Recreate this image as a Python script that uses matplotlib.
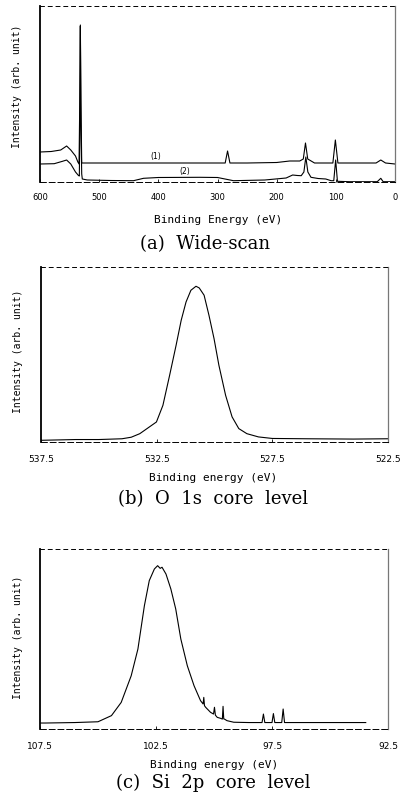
import matplotlib
matplotlib.use("Agg")
import matplotlib.pyplot as plt

# (a) wide scan, two samples
wide_e1 = [600, 581, 565, 555, 548, 540, 536, 534, 532.8, 531.8, 530.8, 529.5, 500, 450,
           400, 350, 300, 287, 283, 279, 250, 200, 178, 161, 155, 151.3, 147.5, 136, 120,
           105, 100.8, 96.5, 60, 32, 24, 16, 0]
wide_i1 = [30, 30.5, 32, 36, 32, 26, 20, 18, 80, 157, 80, 19, 19, 19,
           19, 19, 19, 19, 31, 19, 19, 19.5, 21, 21, 23, 39, 23, 19, 19,
           19, 42, 19, 19, 19, 22, 19, 18]
wide_e2 = [600, 576, 562, 555, 548, 540, 535, 533.5, 532.6, 531.8, 530.9, 529.5, 528.5, 520,
           480, 442, 425, 400, 330, 300, 273, 220, 184, 173, 165, 158.5, 154, 150.7, 147.3,
           142, 130, 117, 108, 103.5, 100.3, 97.3, 77, 30, 24, 20, 0]
wide_i2 = [18, 18.3, 20.7, 22, 18, 10, 6.5, 6, 60, 156, 60, 8, 3, 2,
           1.5, 1.3, 3.7, 4.5, 4.7, 4.5, 1.3, 2, 4, 7, 6.5, 6.3, 10, 25, 10,
           4.7, 3.5, 3, 1.3, 1.3, 22, 0.7, 0.3, 0.3, 3.7, 0.3, 0.3]
wide_ticks = [600, 500, 400, 300, 200, 100, 0]

# (b) O 1s
o1s_e = [537.5, 536, 535, 534, 533.6, 533.23, 532.51, 532.23, 531.94, 531.66, 531.44,
         531.23, 531.02, 530.80, 530.66, 530.45, 530.24, 530.02, 529.81, 529.52, 529.24,
         528.95, 528.60, 528.10, 527.5, 526, 524, 522.5]
o1s_i = [0.0, 0.005, 0.005, 0.01, 0.02, 0.043, 0.119, 0.227, 0.422, 0.617, 0.779,
         0.898, 0.974, 1.0, 0.989, 0.942, 0.812, 0.660, 0.487, 0.292, 0.152,
         0.076, 0.043, 0.022, 0.012, 0.01, 0.008, 0.01]
o1s_ticks = [537.5, 532.5, 527.5, 522.5]

# (c) Si 2p
si2p_e = [107.5, 107.27, 106, 105.0, 104.42, 104.0, 103.57, 103.28, 103.0, 102.79, 102.57,
          102.43, 102.32, 102.24, 102.07, 101.86, 101.65, 101.43, 101.15, 100.86, 100.58,
          100.47, 100.44, 100.41, 100.36, 100.15, 100.02, 99.98, 99.94, 99.86, 99.72, 99.64,
          99.61, 99.58, 99.55, 99.44, 99.15, 98.5, 97.93, 97.87, 97.81, 97.5, 97.44, 97.38,
          97.08, 97.02, 96.96, 96.0, 93.46]
si2p_i = [0, 0, 0.003, 0.008, 0.047, 0.131, 0.30, 0.47, 0.746, 0.905, 0.979,
          1.0, 0.983, 0.99, 0.947, 0.852, 0.725, 0.534, 0.364, 0.237, 0.142,
          0.121, 0.163, 0.11, 0.10, 0.068, 0.057, 0.10, 0.05, 0.036, 0.03, 0.025,
          0.106, 0.026, 0.025, 0.015, 0.005, 0.003, 0.003, 0.057, 0.003, 0.003, 0.06, 0.003,
          0.003, 0.089, 0.003, 0.003, 0.003]
si2p_ticks = [107.5, 102.5, 97.5, 92.5]

W, H = 408, 803
SANS = "DejaVu Sans"
MONO = "DejaVu Sans Mono"
SERIF = "DejaVu Serif"


def frame(ax):
    ax.spines["left"].set_linewidth(1.3)
    ax.spines["right"].set_color("#777777")
    ax.spines["right"].set_linewidth(0.9)
    ax.spines["top"].set_linewidth(0.7)
    ax.spines["top"].set_linestyle((0, (4, 4)))
    ax.spines["bottom"].set_linewidth(0.7)
    ax.spines["bottom"].set_linestyle((0, (6, 3)))
    ax.set_yticks([])
    ax.tick_params(axis="x", direction="in", length=2, width=0.6)


def px_axes(fig, left, right, top, bottom):
    return fig.add_axes([left / W, 1 - bottom / H, (right - left) / W, (bottom - top) / H])


fig = plt.figure(figsize=(W / 100, H / 100), dpi=100)

# (a)
ax = px_axes(fig, 40, 395, 7, 183)
ax.plot(wide_e1, wide_i1, color="black", lw=0.8)
ax.plot(wide_e2, wide_i2, color="black", lw=0.8)
ax.set_xlim(600, 0)
ax.set_ylim(0, 176)
frame(ax)
ax.set_xticks(wide_ticks)
ax.set_xticklabels([str(t) for t in wide_ticks], fontsize=6, family=SANS)
ax.tick_params(axis="x", pad=7)
ax.text(404, 27, "(1)", fontsize=5.5, family=SANS, ha="center", va="center")
ax.text(355, 11.3, "(2)", fontsize=5.5, family=SANS, ha="center", va="center")
ax.set_xlabel("Binding Energy (eV)", fontsize=8, family=MONO, va="center")
ax.xaxis.set_label_coords((218 - 40) / 355, (183 - 220) / 176)
ax.set_ylabel("Intensity (arb. unit)", fontsize=7, family=MONO, va="center")
ax.yaxis.set_label_coords((17.5 - 40) / 355, (183 - 86) / 176)
fig.text(205 / W, 1 - 244 / H, "(a)  Wide-scan", fontsize=13, family=SERIF,
         ha="center", va="center")

# (b)
ax = px_axes(fig, 41, 388, 268, 443)
ax.plot(o1s_e, o1s_i, color="black", lw=0.8)
ax.set_xlim(537.5, 522.5)
ax.set_ylim(-0.011, 1.125)
frame(ax)
ax.set_xticks(o1s_ticks)
ax.set_xticklabels([f"{t:.1f}" for t in o1s_ticks], fontsize=6.5, family=SANS)
ax.tick_params(axis="x", pad=8.5)
ax.set_xlabel("Binding energy (eV)", fontsize=8, family=MONO, va="center")
ax.xaxis.set_label_coords((213 - 41) / 347, (443 - 478) / 175)
ax.set_ylabel("Intensity (arb. unit)", fontsize=7, family=MONO, va="center")
ax.yaxis.set_label_coords((18.5 - 41) / 347, (443 - 351) / 175)
fig.text(213 / W, 1 - 499 / H, "(b)  O  1s  core  level", fontsize=13, family=SERIF,
         ha="center", va="center")

# (c)
ax = px_axes(fig, 40, 388, 550, 730)
ax.plot(si2p_e, si2p_i, color="black", lw=0.8)
ax.set_xlim(107.5, 92.5)
ax.set_ylim(-0.038, 1.106)
frame(ax)
ax.set_xticks(si2p_ticks)
ax.set_xticklabels([f"{t:.1f}" for t in si2p_ticks], fontsize=6.5, family=SANS)
ax.tick_params(axis="x", pad=9)
ax.set_xlabel("Binding energy (eV)", fontsize=8, family=MONO, va="center")
ax.xaxis.set_label_coords((214 - 40) / 348, (730 - 765) / 180)
ax.set_ylabel("Intensity (arb. unit)", fontsize=7, family=MONO, va="center")
ax.yaxis.set_label_coords((18 - 40) / 348, (730 - 637) / 180)
fig.text(213 / W, 1 - 783 / H, "(c)  Si  2p  core  level", fontsize=13, family=SERIF,
         ha="center", va="center")

fig.savefig("out.png", dpi=100)
